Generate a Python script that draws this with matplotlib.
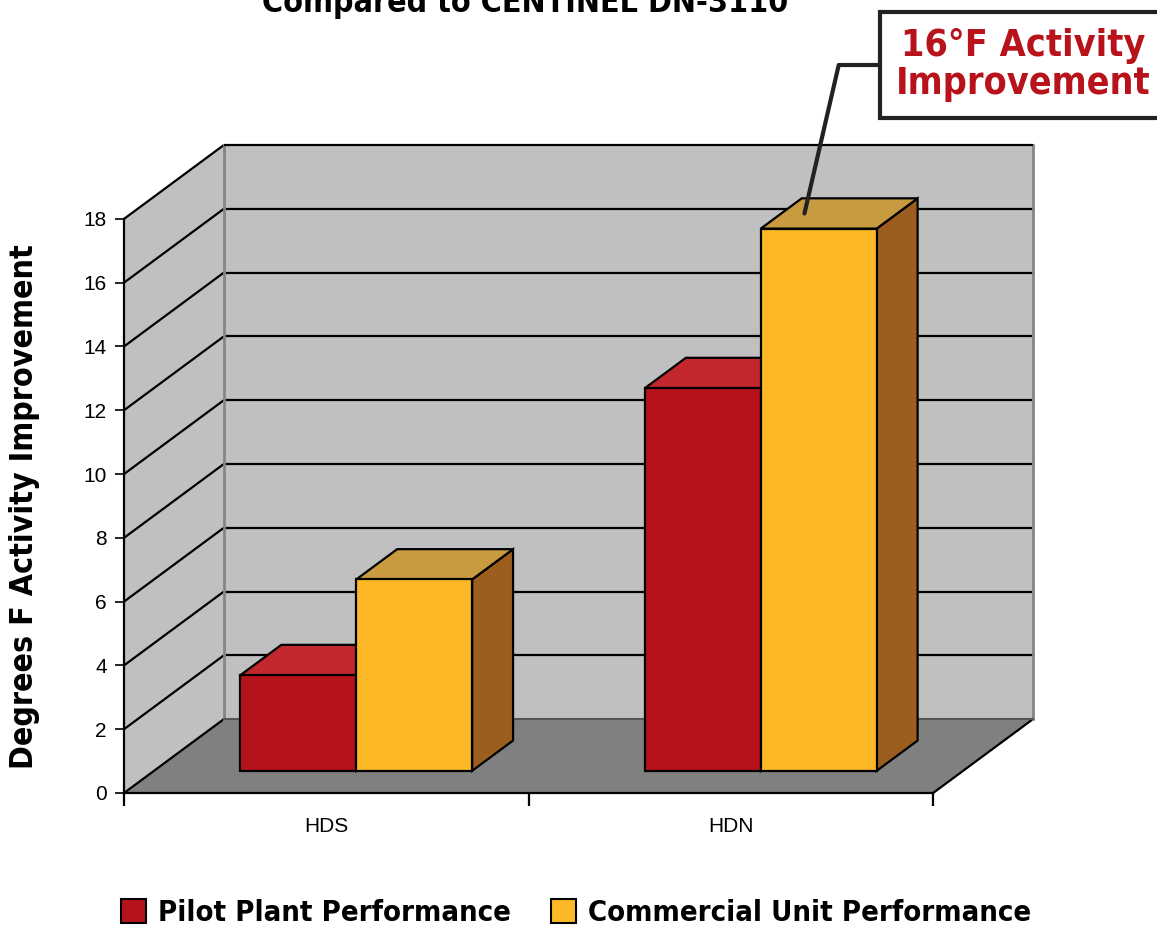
import matplotlib
matplotlib.use("Agg")
import matplotlib.pyplot as plt
from matplotlib.patches import Polygon, Patch
from matplotlib import font_manager

# data
categories = ["HDS", "HDN"]
series_names = ["Pilot Plant Performance", "Commercial Unit Performance"]
pilot_vals = [3, 12]
commercial_vals = [6, 17]
y_ticks = list(range(0, 20, 2))

# colours: front, top, side
face_cols = [("#B5121B", "#C1272D", "#8A0E14"),
             ("#FDB827", "#C99B41", "#9C5E1F")]

names = {f.name for f in font_manager.fontManager.ttflist}
narrow = "Liberation Sans Narrow" if "Liberation Sans Narrow" in names else "DejaVu Sans"
plain = "Liberation Sans" if "Liberation Sans" in names else "DejaVu Sans"
cond = dict(family=narrow, fontweight="bold", fontstretch="condensed")

W, H = 1157, 927
fig = plt.figure(figsize=(W / 100, H / 100), dpi=100)

# oblique 3D frame: depth offset in data units
ymax = 18
DX = 100 / 405
DY = 74 / 31.94
d0, db = 0.30, 0.41          # bar front depth, bar depth (fraction of full depth)
w = 0.2864                   # bar width in category units
off = (1 - 2 * w) / 2

left_px, right_px, bot_px, top_px = 124, 1033, 793, 145
ax = fig.add_axes([left_px / W, (H - bot_px) / H,
                   (right_px - left_px) / W, (bot_px - top_px) / H])
ax.set_xlim(0, 2 + DX)
ax.set_ylim(0, ymax + DY)
ax.patch.set_visible(False)

# walls and floor
ax.add_patch(Polygon([(0, 0), (0, ymax), (DX, ymax + DY), (DX, DY)],
                     fc="#C0C0C0", ec="none", zorder=1, clip_on=False))
ax.add_patch(Polygon([(DX, DY), (DX, ymax + DY), (2 + DX, ymax + DY), (2 + DX, DY)],
                     fc="#C0C0C0", ec="none", zorder=1, clip_on=False))
ax.add_patch(Polygon([(0, 0), (2, 0), (2 + DX, DY), (DX, DY)],
                     fc="#808080", ec="none", zorder=1, clip_on=False))

kw = dict(color="black", lw=1.6, zorder=2, clip_on=False, solid_capstyle="butt")
for v in y_ticks[1:]:
    ax.plot([0, DX], [v, v + DY], **kw)
    if v < ymax:
        ax.plot([DX, 2 + DX], [v + DY, v + DY], **kw)
ax.plot([0, DX], [0, DY], **kw)
ax.plot([2, 2 + DX], [0, DY], **kw)
gkw = dict(color="#858585", lw=2, zorder=2, clip_on=False)
ax.plot([DX, DX], [DY, ymax + DY], **gkw)
ax.plot([2 + DX, 2 + DX], [DY, ymax + DY], **gkw)
ax.plot([DX, 2 + DX], [DY, DY], color="#555555", lw=1.5, zorder=2, clip_on=False)
ax.plot([DX, 2 + DX], [ymax + DY, ymax + DY], **kw)


def draw_bar(x0, val, cols, z):
    front, top, side = cols
    yb = d0 * DY
    xf = x0 + d0 * DX
    ddx, ddy = db * DX, db * DY
    ekw = dict(ec="black", lw=1.6, joinstyle="miter", clip_on=False, zorder=z)
    ax.add_patch(Polygon([(xf + w, yb), (xf + w + ddx, yb + ddy),
                          (xf + w + ddx, yb + val + ddy), (xf + w, yb + val)], fc=side, **ekw))
    ax.add_patch(Polygon([(xf, yb + val), (xf + ddx, yb + val + ddy),
                          (xf + w + ddx, yb + val + ddy), (xf + w, yb + val)], fc=top, **ekw))
    ax.add_patch(Polygon([(xf, yb), (xf, yb + val), (xf + w, yb + val), (xf + w, yb)],
                         fc=front, **ekw))


z = 5
for i in range(len(categories)):
    for j, vals in enumerate([pilot_vals, commercial_vals]):
        draw_bar(i + off + j * w, vals[i], face_cols[j], z)
        z += 1

# axes
for s in ["top", "right"]:
    ax.spines[s].set_visible(False)
ax.spines["left"].set_bounds(0, ymax)
ax.spines["bottom"].set_bounds(0, 2)
for s in ["left", "bottom"]:
    ax.spines[s].set_linewidth(1.6)
    ax.spines[s].set_zorder(3)
ax.set_yticks(y_ticks)
ax.set_yticklabels([str(t) for t in y_ticks], fontsize=15, family=plain)
ax.tick_params(axis="y", length=6.5, width=1.2, pad=6)
ax.set_xticks([0, 1, 2])
ax.set_xticklabels(["", "", ""])
ax.set_xticks([0.5, 1.5], minor=True)
ax.set_xticklabels(categories, minor=True, fontsize=15, family=plain)
ax.tick_params(axis="x", which="major", length=9, width=1.6)
ax.tick_params(axis="x", which="minor", length=0, pad=17)

fig.text(25 / W, 1 - 507 / H, "Degrees F Activity Improvement", rotation=90,
         ha="center", va="center", fontsize=23, **cond)

fig.text(525 / W, 1 - 12 / H, "Compared to CENTINEL DN-3110", ha="center",
         va="baseline", fontsize=23, **cond)

# callout
tip = (1 + off + w + 0.2 * w + (d0 + 0.5 * db) * DX, commercial_vals[1] + (d0 + 0.5 * db) * DY)
ax.annotate("16°F Activity\nImprovement", xy=tip, xycoords="data",
            xytext=(1023, H - 65), textcoords="figure pixels",
            ha="center", va="center", fontsize=27, color="#B8121B", linespacing=1.08,
            bbox=dict(boxstyle="square,pad=0.42", fc="white", ec="#222222", lw=3),
            arrowprops=dict(arrowstyle="-", color="#222222", lw=3,
                            connectionstyle="angle,angleA=0,angleB=77,rad=0",
                            relpos=(0, 0.5), shrinkA=0, shrinkB=0),
            zorder=20, annotation_clip=False, **cond)

handles = [Patch(fc=face_cols[k][0], ec="black", lw=1.5, label=series_names[k]) for k in range(2)]
fig.legend(handles=handles, loc="center", bbox_to_anchor=(576 / W, 1 - 913 / H),
           ncol=2, frameon=False, handlelength=0.85, handleheight=0.85,
           handletextpad=0.4, columnspacing=1.4,
           prop=dict(family=narrow, weight="bold", size=21, stretch="condensed"))

fig.savefig("out.png", dpi=100, facecolor="white")
